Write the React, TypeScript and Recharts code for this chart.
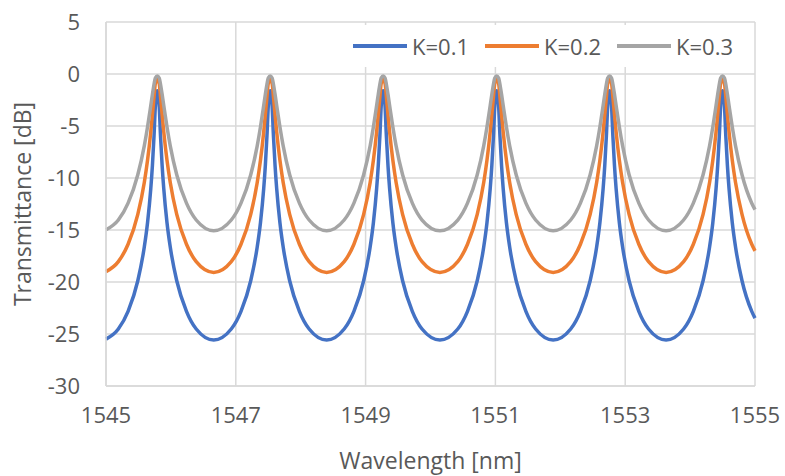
import { LineChart, Line, XAxis, YAxis, CartesianGrid } from 'recharts';

// wavelength samples [nm], denser near each resonance peak
const wavelength = [
  1545,
  1545.19, 1545.34, 1545.49, 1545.59, 1545.64, 1545.69, 1545.715, 1545.74, 1545.76, 1545.79, 1545.82, 1545.84, 1545.865, 1545.89, 1545.94, 1545.99, 1546.09, 1546.24, 1546.39,
  1546.66,
  1546.93, 1547.08, 1547.23, 1547.33, 1547.38, 1547.43, 1547.455, 1547.48, 1547.5, 1547.53, 1547.56, 1547.58, 1547.605, 1547.63, 1547.68, 1547.73, 1547.83, 1547.98, 1548.13,
  1548.4,
  1548.67, 1548.82, 1548.97, 1549.07, 1549.12, 1549.17, 1549.195, 1549.22, 1549.24, 1549.27, 1549.3, 1549.32, 1549.345, 1549.37, 1549.42, 1549.47, 1549.57, 1549.72, 1549.87,
  1550.145,
  1550.42, 1550.57, 1550.72, 1550.82, 1550.87, 1550.92, 1550.945, 1550.97, 1550.99, 1551.02, 1551.05, 1551.07, 1551.095, 1551.12, 1551.17, 1551.22, 1551.32, 1551.47, 1551.62,
  1551.89,
  1552.16, 1552.31, 1552.46, 1552.56, 1552.61, 1552.66, 1552.685, 1552.71, 1552.73, 1552.76, 1552.79, 1552.81, 1552.835, 1552.86, 1552.91, 1552.96, 1553.06, 1553.21, 1553.36,
  1553.63,
  1553.9, 1554.05, 1554.2, 1554.3, 1554.35, 1554.4, 1554.425, 1554.45, 1554.47, 1554.5, 1554.53, 1554.55, 1554.575, 1554.6, 1554.65, 1554.7, 1554.8, 1554.95,
  1555,
];

// transmittance [dB], K=0.1
const k01 = [
  -25.49,
  -24.52, -22.82, -19.88, -16.64, -14.3, -11.03, -8.81, -5.96, -3.14, -1.6, -3.14, -5.96, -8.81, -11.03, -14.3, -16.64, -19.88, -22.82, -24.52,
  -25.58,
  -24.52, -22.82, -19.88, -16.64, -14.3, -11.03, -8.81, -5.96, -3.14, -1.6, -3.14, -5.96, -8.81, -11.03, -14.3, -16.64, -19.88, -22.82, -24.52,
  -25.58,
  -24.52, -22.82, -19.88, -16.64, -14.3, -11.03, -8.81, -5.96, -3.14, -1.6, -3.14, -5.96, -8.81, -11.03, -14.3, -16.64, -19.88, -22.82, -24.52,
  -25.58,
  -24.52, -22.82, -19.88, -16.64, -14.3, -11.03, -8.81, -5.96, -3.14, -1.6, -3.14, -5.96, -8.81, -11.03, -14.3, -16.64, -19.88, -22.82, -24.52,
  -25.58,
  -24.52, -22.82, -19.88, -16.64, -14.3, -11.03, -8.81, -5.96, -3.14, -1.6, -3.14, -5.96, -8.81, -11.03, -14.3, -16.64, -19.88, -22.82, -24.52,
  -25.58,
  -24.52, -22.82, -19.88, -16.64, -14.3, -11.03, -8.81, -5.96, -3.14, -1.6, -3.14, -5.96, -8.81, -11.03, -14.3, -16.64, -19.88, -22.82,
  -23.47,
];

// K=0.2
const k02 = [
  -19.0,
  -18.04, -16.37, -13.5, -10.43, -8.3, -5.56, -3.92, -2.19, -0.92, -0.5, -0.92, -2.19, -3.92, -5.56, -8.3, -10.43, -13.5, -16.37, -18.04,
  -19.08,
  -18.04, -16.37, -13.5, -10.43, -8.3, -5.56, -3.92, -2.19, -0.92, -0.5, -0.92, -2.19, -3.92, -5.56, -8.3, -10.43, -13.5, -16.37, -18.04,
  -19.08,
  -18.04, -16.37, -13.5, -10.43, -8.3, -5.56, -3.92, -2.19, -0.92, -0.5, -0.92, -2.19, -3.92, -5.56, -8.3, -10.43, -13.5, -16.37, -18.04,
  -19.08,
  -18.04, -16.37, -13.5, -10.43, -8.3, -5.56, -3.92, -2.19, -0.92, -0.5, -0.92, -2.19, -3.92, -5.56, -8.3, -10.43, -13.5, -16.37, -18.04,
  -19.08,
  -18.04, -16.37, -13.5, -10.43, -8.3, -5.56, -3.92, -2.19, -0.92, -0.5, -0.92, -2.19, -3.92, -5.56, -8.3, -10.43, -13.5, -16.37, -18.04,
  -19.08,
  -18.04, -16.37, -13.5, -10.43, -8.3, -5.56, -3.92, -2.19, -0.92, -0.5, -0.92, -2.19, -3.92, -5.56, -8.3, -10.43, -13.5, -16.37,
  -17.01,
];

// K=0.3
const k03 = [
  -14.98,
  -14.04, -12.42, -9.69, -6.91, -5.1, -3.03, -1.96, -0.98, -0.38, -0.2, -0.38, -0.98, -1.96, -3.03, -5.1, -6.91, -9.69, -12.42, -14.04,
  -15.07,
  -14.04, -12.42, -9.69, -6.91, -5.1, -3.03, -1.96, -0.98, -0.38, -0.2, -0.38, -0.98, -1.96, -3.03, -5.1, -6.91, -9.69, -12.42, -14.04,
  -15.07,
  -14.04, -12.42, -9.69, -6.91, -5.1, -3.03, -1.96, -0.98, -0.38, -0.2, -0.38, -0.98, -1.96, -3.03, -5.1, -6.91, -9.69, -12.42, -14.04,
  -15.07,
  -14.04, -12.42, -9.69, -6.91, -5.1, -3.03, -1.96, -0.98, -0.38, -0.2, -0.38, -0.98, -1.96, -3.03, -5.1, -6.91, -9.69, -12.42, -14.04,
  -15.07,
  -14.04, -12.42, -9.69, -6.91, -5.1, -3.03, -1.96, -0.98, -0.38, -0.2, -0.38, -0.98, -1.96, -3.03, -5.1, -6.91, -9.69, -12.42, -14.04,
  -15.07,
  -14.04, -12.42, -9.69, -6.91, -5.1, -3.03, -1.96, -0.98, -0.38, -0.2, -0.38, -0.98, -1.96, -3.03, -5.1, -6.91, -9.69, -12.42,
  -13.04,
];

const xTicks = [1545, 1547, 1549, 1551, 1553, 1555];
const yTicks = [5, 0, -5, -10, -15, -20, -25, -30];

const series = [
  { key: 'k01', name: 'K=0.1', color: '#4472C4' },
  { key: 'k02', name: 'K=0.2', color: '#ED7D31' },
  { key: 'k03', name: 'K=0.3', color: '#A5A5A5' },
];

const TEXT = '#595959';
const GRID = '#d9d9d9';

// legend sits inside the plot, top right, on a white box that hides the gridlines
function LegendBox() {
  return (
    <div style={{ position: 'absolute', left: 345, top: 25, width: 405, height: 42, background: '#fff' }}>
      {series.map((s, i) => (
        <div key={s.key} style={{ position: 'absolute', left: 8 + i * 132, top: 0, height: 42, display: 'flex', alignItems: 'center' }}>
          <svg width={54} height={6}>
            <line x1={0} y1={3} x2={54} y2={3} stroke={s.color} strokeWidth={4} />
          </svg>
          <span style={{ marginLeft: 5, fontSize: 22, color: TEXT }}>{s.name}</span>
        </div>
      ))}
    </div>
  );
}

export default function App() {
  const data = wavelength.map((w, i) => ({ w, k01: k01[i], k02: k02[i], k03: k03[i] }));

  return (
    <div style={{ position: 'absolute', left: 0, top: 0, width: 785, height: 476, background: '#fff', fontFamily: '"Open Sans", sans-serif' }}>
      <LineChart width={785} height={476} data={data} margin={{ top: 22, right: 30, bottom: 0, left: 0 }}>
        <CartesianGrid stroke={GRID} strokeWidth={1.5} />
        <XAxis
          type="number"
          dataKey="w"
          domain={[1545, 1555]}
          ticks={xTicks}
          interval={0}
          height={90}
          tickLine={false}
          axisLine={{ stroke: GRID, strokeWidth: 1.5 }}
          tickSize={0}
          tickMargin={21}
          tick={{ fill: TEXT, fontSize: 22 }}
          label={{ value: 'Wavelength [nm]', position: 'insideBottom', offset: 7, fill: TEXT, fontSize: 23 }}
        />
        <YAxis
          type="number"
          domain={[-30, 5]}
          ticks={yTicks}
          interval={0}
          width={106}
          tickLine={false}
          axisLine={{ stroke: GRID, strokeWidth: 1.5 }}
          tickSize={0}
          tickMargin={26}
          tick={{ fill: TEXT, fontSize: 22 }}
          label={{ value: 'Transmittance [dB]', angle: -90, position: 'insideLeft', offset: 23, fill: TEXT, fontSize: 23, style: { textAnchor: 'middle' } }}
        />
        {series.map((s) => (
          <Line
            key={s.key}
            type="monotone"
            dataKey={s.key}
            name={s.name}
            stroke={s.color}
            strokeWidth={3.5}
            dot={false}
            activeDot={false}
            isAnimationActive={false}
          />
        ))}
      </LineChart>
      <LegendBox />
    </div>
  );
}
